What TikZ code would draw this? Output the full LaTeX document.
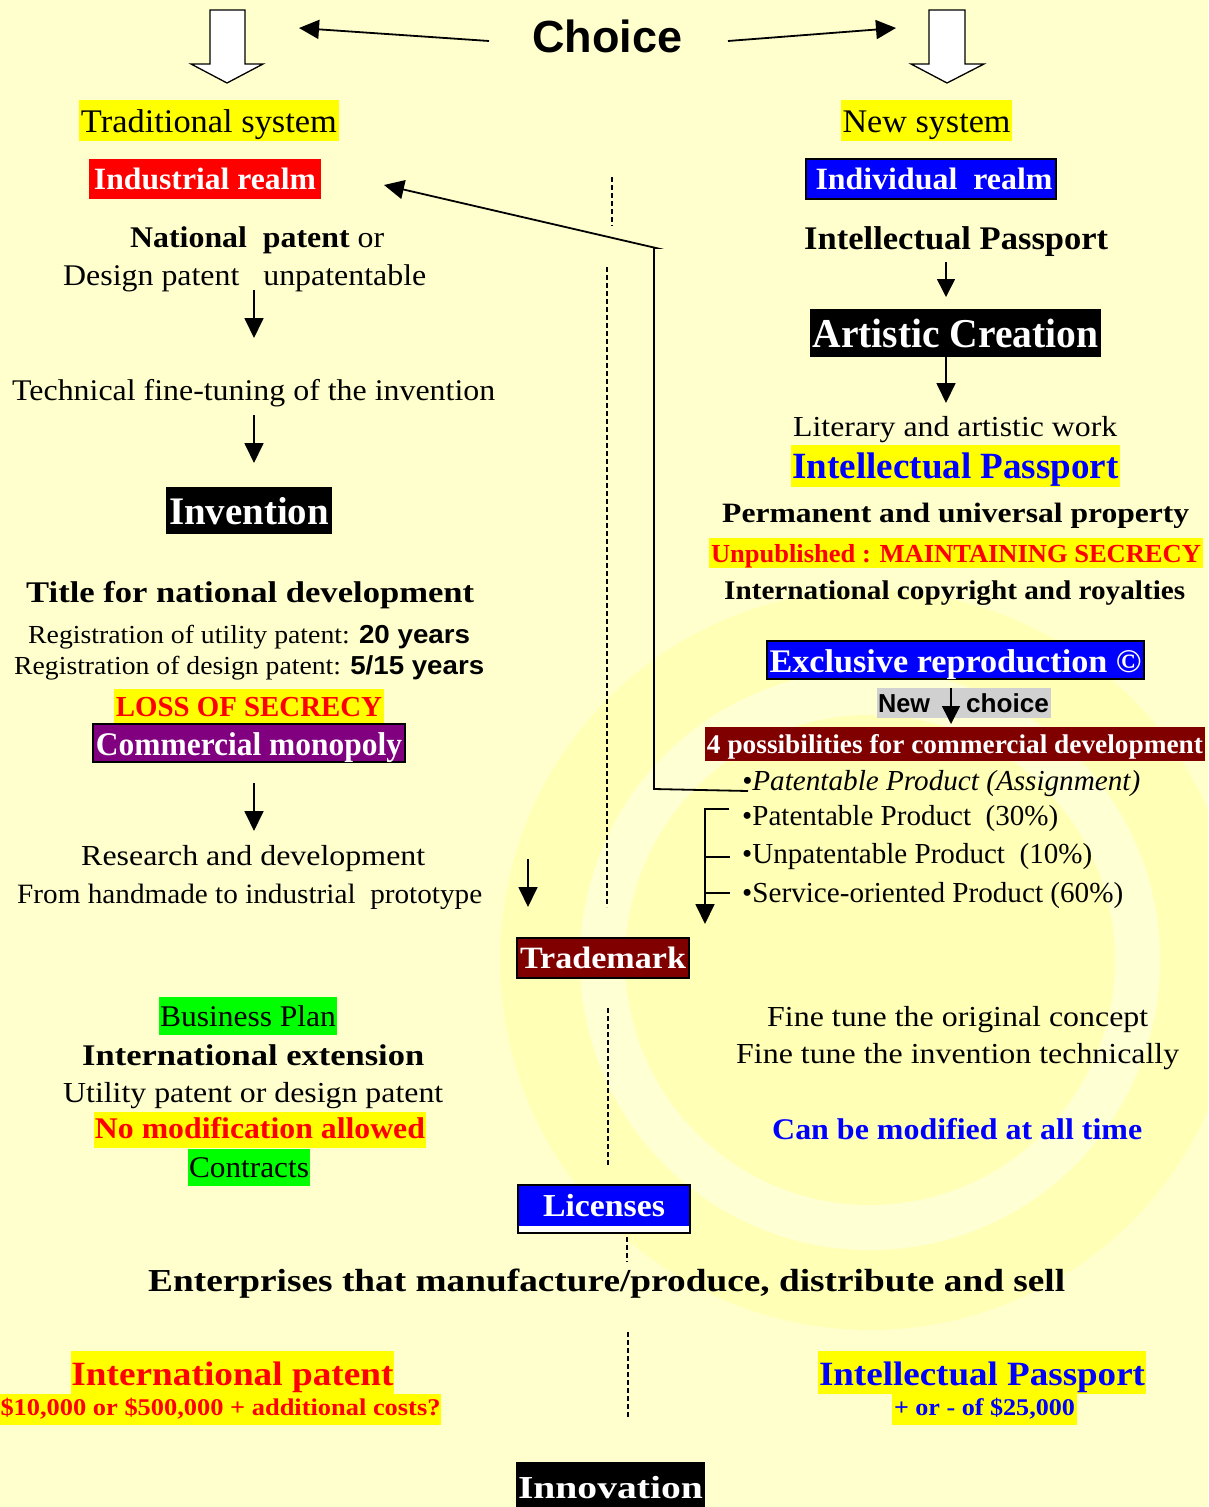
\documentclass[tikz,border=0pt]{standalone}
\usepackage{fontspec}
\setmainfont{Liberation Serif}
\newfontfamily\arialf{Liberation Sans}
\usetikzlibrary{arrows.meta}
\definecolor{bgy}{RGB}{255,255,206}
\definecolor{wmy}{RGB}{255,255,182}
\definecolor{wml}{RGB}{255,255,212}
\definecolor{hly}{RGB}{255,255,0}
\definecolor{dred}{RGB}{128,0,0}
\definecolor{purp}{RGB}{128,0,128}
\definecolor{grn}{RGB}{0,255,0}
\definecolor{gry}{RGB}{208,208,208}
\newcommand\fsz[1]{\fontsize{#1}{#1}\selectfont}
\newcommand\fw[2]{\resizebox{#1pt}{\height}{#2}}
% box node: name, x1, y1, x2, y2, baseline, style, text
\newcommand\bx[8]{%
  \pgfmathsetmacro\cxx{(#2+#4)/2}%
  \pgfmathsetmacro\tht{#6-#3}%
  \pgfmathsetmacro\tdp{#5-#6}%
  \pgfmathsetmacro\mw{#4-#2}%
  \node[#7, inner sep=0pt, anchor=base, minimum width=\mw pt, text height=\tht pt, text depth=\tdp pt] (#1) at (\cxx,#6) {#8};}
% text node: name, x1, x2, baseline, style, text
\newcommand\tx[6]{%
  \pgfmathsetmacro\mw{#3-#2}%
  \node[#5, anchor=base west, inner sep=0pt] (#1) at (#2,#4) {\fw{\mw}{#6}};}
\begin{document}
\begin{tikzpicture}[x=1pt,y=-1pt,
  arr/.style={line width=1.8pt,-{Triangle[length=20pt,width=19pt]}},
  sarr/.style={line width=1.6pt,-{Triangle[length=18pt,width=18pt]}},
  lin/.style={line width=1.8pt},
  dsh/.style={line width=1.1pt,dash pattern=on 5pt off 3pt},
  hollow/.style={fill=white,draw=black,line width=1.3pt,line join=miter}]
\fill[bgy] (0,0) rectangle (1208,1507);
\useasboundingbox (0,0) rectangle (1208,1507);
% watermark
\begin{scope}
\clip (0,0) rectangle (1208,1507);
\fill[wmy] (870,960) circle[radius=370];
\fill[wml] (870,960) circle[radius=290];
\fill[wmy] (870,960) circle[radius=245];
\end{scope}
% top
\tx{choice}{532}{682}{52}{font=\arialf\bfseries\fsz{45}}{Choice}
\coordinate (cl0) at (489,41); \coordinate (cl1) at (299,28);
\coordinate (cr0) at (728,41); \coordinate (cr1) at (896,28);
\draw[arr] (cl0) -- (cl1);
\draw[arr] (cr0) -- (cr1);
\draw[hollow] (210,10) -- (245,10) -- (245,64) -- (263,64) -- (227,83) -- (191,64) -- (210,64) -- cycle;
\draw[hollow] (929,10) -- (965,10) -- (965,64) -- (984,64) -- (947,83) -- (911,64) -- (929,64) -- cycle;
\bx{trad}{79}{100}{339}{141}{132}{fill=hly,font=\fsz{33}}{\fw{256}{Traditional system}}
\bx{news}{841}{100}{1012}{141}{132}{fill=hly,font=\fsz{33}}{\fw{168}{New system}}
% left column
\bx{indr}{89}{159}{321}{199}{189}{fill=red,text=white,font=\fsz{31}\bfseries}{\fw{222}{Industrial realm}}
\tx{natp}{130}{384}{247}{font=\fsz{30}}{\textbf{National\ \ patent} or}
\tx{desp}{63}{426}{285}{font=\fsz{30}}{Design patent\ \ \ unpatentable}
\coordinate (a1t) at (254,290); \coordinate (a1h) at (254,338);
\draw[arr] (a1t) -- (a1h);
\tx{tech}{12}{495}{400}{font=\fsz{30}}{Technical fine-tuning of the invention}
\coordinate (a2t) at (254,415); \coordinate (a2h) at (254,463);
\draw[arr] (a2t) -- (a2h);
\bx{inv}{166}{487}{332}{534}{524}{fill=black,text=white,font=\fsz{39}\bfseries}{\fw{160}{Invention}}
\tx{title}{26}{474}{602}{font=\fsz{30}\bfseries}{Title for national development}
\tx{reg1}{28}{470}{643}{font=\fsz{26}}{Registration of utility patent: {\arialf\bfseries 20 years}}
\tx{reg2}{14}{484}{674}{font=\fsz{26}}{Registration of design patent: {\arialf\bfseries 5/15 years}}
\bx{loss}{114}{689}{384}{723}{716}{fill=hly,text=red,font=\fsz{29}\bfseries}{\fw{266}{LOSS OF SECRECY}}
\bx{comm}{93}{724}{405}{762}{755}{fill=purp,draw=black,line width=1.5pt,text=white,font=\fsz{33}\bfseries}{\fw{306}{Commercial monopoly}}
\coordinate (a3t) at (254,783); \coordinate (a3h) at (254,831);
\draw[arr] (a3t) -- (a3h);
\tx{rd}{81}{425}{865}{font=\fsz{29}}{Research and development}
\tx{hand}{17}{482}{903}{font=\fsz{28}}{From handmade to industrial\ \ prototype}
\coordinate (a4t) at (528,859); \coordinate (a4h) at (528,907);
\draw[arr] (a4t) -- (a4h);
% right column
\bx{indv}{806}{159}{1056}{199}{189}{fill=blue,draw=black,line width=2pt,text=white,font=\fsz{31}\bfseries}{\hspace*{6pt}\fw{237}{Individual\ \ realm}}
\tx{ip1}{804}{1108}{249}{font=\fsz{33}\bfseries}{Intellectual Passport}
\coordinate (a5t) at (946,262); \coordinate (a5h) at (946,297);
\draw[sarr] (a5t) -- (a5h);
\bx{art}{810}{309}{1101}{357}{347}{fill=black,text=white,font=\fsz{41}\bfseries}{\fw{286}{Artistic Creation}}
\coordinate (a6t) at (946,357); \coordinate (a6h) at (946,403);
\draw[arr] (a6t) -- (a6h);
\tx{lit}{793}{1117}{436}{font=\fsz{29}}{Literary and artistic work}
\bx{ip2}{791}{445}{1120}{487}{478}{fill=hly,text=blue,font=\fsz{37}\bfseries}{\fw{326}{Intellectual Passport}}
\tx{perm}{722}{1189}{522}{font=\fsz{28}\bfseries}{Permanent and universal property}
\bx{unp}{709}{538}{1203}{568}{562}{fill=hly,text=red,font=\fsz{26}\bfseries}{\fw{490}{Unpublished : MAINTAINING SECRECY}}
\tx{icr}{724}{1185}{599}{font=\fsz{27}\bfseries}{International copyright and royalties}
\bx{excl}{767}{641}{1144}{679}{672}{fill=blue,draw=black,line width=1.5pt,text=white,font=\fsz{33}\bfseries}{\fw{372}{Exclusive reproduction ©}}
\bx{nch}{877}{688}{1051}{718}{712}{fill=gry,font=\arialf\bfseries\fsz{26}}{\hspace*{1pt}\fw{52}{New}\hspace{36pt}\fw{83}{choice}\hspace*{2pt}}
\coordinate (a7t) at (951,688); \coordinate (a7h) at (951,724);
\draw[sarr] (a7t) -- (a7h);
\bx{four}{705}{727}{1205}{761}{753}{fill=dred,text=white,font=\fsz{27}\bfseries}{\fw{496}{4 possibilities for commercial development}}
\tx{b1}{742}{1140}{790}{font=\fsz{29}\itshape}{•Patentable Product (Assignment)}
\tx{b2}{742}{1058}{825}{font=\fsz{29}}{•Patentable Product\ \ (30\%)}
\tx{b3}{742}{1092}{863}{font=\fsz{29}}{•Unpatentable Product\ \ (10\%)}
\tx{b4}{742}{1123}{902}{font=\fsz{29}}{•Service-oriented Product (60\%)}
% bracket
\coordinate (k1) at (729,809); \coordinate (k0) at (705,809); \coordinate (kt) at (705,924);
\draw[arr] (k1) -- (k0) -- (kt);
\coordinate (t2a) at (705,857); \coordinate (t2b) at (730,857);
\coordinate (t3a) at (705,893); \coordinate (t3b) at (730,893);
\draw[lin] (t2a) -- (t2b);
\draw[lin] (t3a) -- (t3b);
% connector back to industrial realm
\coordinate (c3) at (748,791); \coordinate (c2) at (654,789);
\coordinate (c1) at (656,248); \coordinate (c0) at (384,185);
\draw[arr,line join=miter] (c3) -- (c2) -- (654,248) -- (c1) -- (c0);
% middle
\bx{tm}{517}{938}{689}{978}{968}{fill=dred,draw=black,line width=1.5pt,text=white,font=\fsz{31}\bfseries}{\fw{166}{Trademark}}
\coordinate (d1a) at (612,177); \coordinate (d1b) at (612,226);
\coordinate (d2a) at (607,267); \coordinate (d2b) at (607,907);
\coordinate (d3a) at (608,1008); \coordinate (d3b) at (608,1166);
\coordinate (d4a) at (627,1237); \coordinate (d4b) at (627,1262);
\coordinate (d5a) at (628,1332); \coordinate (d5b) at (628,1418);
\draw[dsh] (d1a) -- (d1b);
\draw[dsh] (d2a) -- (d2b);
\draw[dsh] (d3a) -- (d3b);
\draw[dsh] (d4a) -- (d4b);
\draw[dsh] (d5a) -- (d5b);
% lower left
\bx{bp}{159}{997}{337}{1035}{1026}{fill=grn,font=\fsz{30}}{\fw{176}{Business Plan}}
\tx{iext}{82}{424}{1065}{font=\fsz{30}\bfseries}{International extension}
\tx{util}{63}{443}{1102}{font=\fsz{29}}{Utility patent or design patent}
\bx{nomod}{94}{1112}{426}{1148}{1138}{fill=hly,text=red,font=\fsz{30}\bfseries}{\fw{330}{No modification allowed}}
\bx{contr}{188}{1149}{310}{1186}{1177}{fill=grn,font=\fsz{30}}{\fw{120}{Contracts}}
% lower right
\tx{ft1}{767}{1148}{1026}{font=\fsz{29}}{Fine tune the original concept}
\tx{ft2}{736}{1179}{1063}{font=\fsz{29}}{Fine tune the invention technically}
\tx{canb}{772}{1142}{1139}{font=\fsz{30}\bfseries,text=blue}{Can be modified at all time}
% bottom
\bx{lic}{518}{1185}{690}{1233}{1216}{fill=white,draw=black,line width=1.5pt,text=white,font=\fsz{32}\bfseries,
  path picture={\fill[blue] (path picture bounding box.north west) rectangle ([yshift=7pt]path picture bounding box.south east);}}{\fw{122}{Licenses}}
\tx{ent}{148}{1065}{1291}{font=\fsz{32}\bfseries}{Enterprises that manufacture/produce, distribute and sell}
\bx{intp}{71}{1351}{394}{1394}{1385}{fill=hly,text=red,font=\fsz{34}\bfseries}{\fw{322}{International patent}}
\bx{cost}{0}{1394}{441}{1425}{1415}{fill=hly,text=red,font=\fsz{24}\bfseries}{\fw{440}{\$10,000 or \$500,000 + additional costs?}}
\bx{ip3}{818}{1351}{1146}{1394}{1385}{fill=hly,text=blue,font=\fsz{34}\bfseries}{\fw{326}{Intellectual Passport}}
\bx{cost2}{892}{1394}{1077}{1425}{1415}{fill=hly,text=blue,font=\fsz{24}\bfseries}{\fw{181}{+ or - of \$25,000}}
\bx{innov}{516}{1462}{705}{1512}{1498}{fill=black,text=white,font=\fsz{32}\bfseries}{\fw{185}{Innovation}}
\end{tikzpicture}
\end{document}
